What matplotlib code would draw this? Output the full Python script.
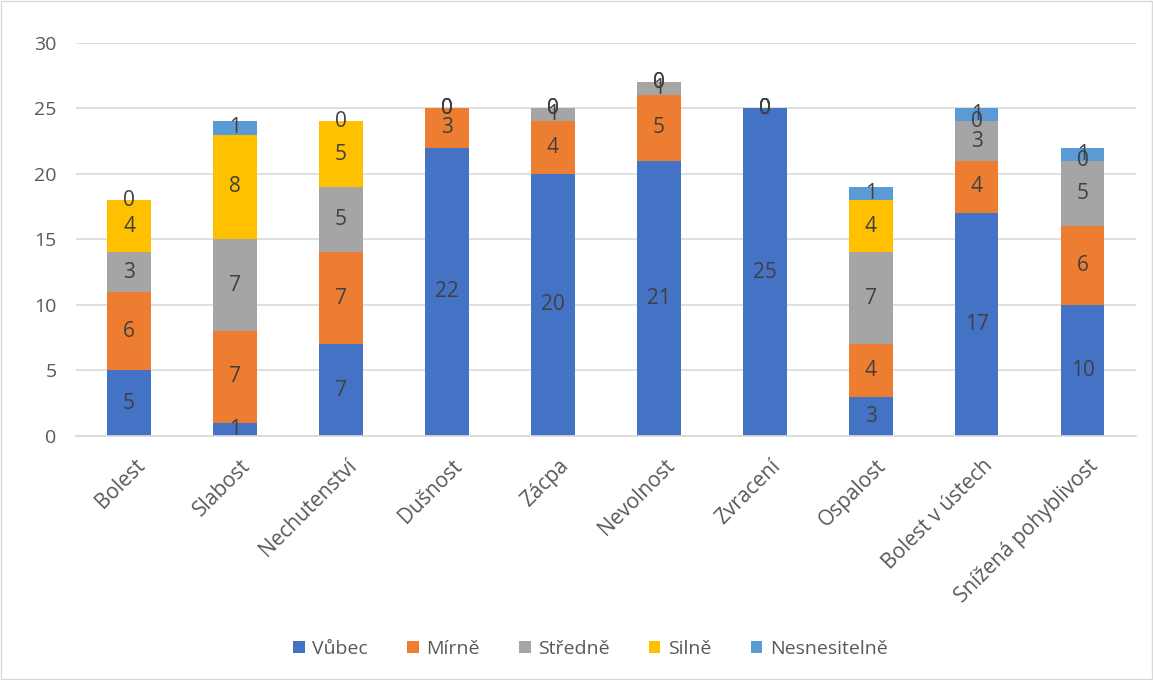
import numpy as np
import matplotlib.pyplot as plt
from matplotlib.transforms import ScaledTranslation

plt.rcParams['font.family'] = ['Open Sans', 'DejaVu Sans']

categories = ['Bolest', 'Slabost', 'Nechutenství', 'Dušnost', 'Zácpa', 'Nevolnost',
              'Zvracení', 'Ospalost', 'Bolest v ústech', 'Snížená pohyblivost']
series_names = ['Vůbec', 'Mírně', 'Středně', 'Silně', 'Nesnesitelně']
vubec = [5, 1, 7, 22, 20, 21, 25, 3, 17, 10]
mirne = [6, 7, 7, 3, 4, 5, 0, 4, 4, 6]
stredne = [3, 7, 5, 0, 1, 1, 0, 7, 3, 5]
silne = [4, 8, 5, 0, 0, 0, 0, 4, 0, 0]
nesnesitelne = [0, 1, 0, 0, 0, 0, 0, 1, 1, 1]
colors = ['#4472C4', '#ED7D31', '#A5A5A5', '#FFC000', '#5B9BD5']

fig = plt.figure(figsize=(11.53, 6.8), dpi=100)
ax = fig.add_axes([0.066, 0.359, 0.919, 0.578])

x = np.arange(len(categories))
bottom = np.zeros(len(categories))
for name, vals, c in zip(series_names, [vubec, mirne, stredne, silne, nesnesitelne], colors):
    vals = np.array(vals)
    ax.bar(x, vals, 0.41, bottom=bottom, color=c, label=name, zorder=2)
    for xi, b, v in zip(x, bottom, vals):
        ax.text(xi, b + v / 2, str(v), ha='center', va='center',
                fontsize=15, color='#404040', zorder=3)
    bottom += vals

ax.set_xlim(-0.5, len(categories) - 0.5)
ax.set_ylim(0, 30)
ax.set_yticks(range(0, 31, 5))
ax.yaxis.grid(True, color='#D9D9D9', linewidth=1.2, zorder=0)
ax.set_axisbelow(True)
for s in ['top', 'right', 'left']:
    ax.spines[s].set_visible(False)
ax.spines['bottom'].set_color('#D9D9D9')
ax.spines['bottom'].set_linewidth(1.2)
ax.tick_params(axis='y', length=0, labelsize=14, colors='#595959', pad=14)
ax.tick_params(axis='x', length=0, labelsize=15, colors='#595959', pad=14)
ax.set_xticks(x)
ax.set_xticklabels(categories, rotation=45, ha='right', rotation_mode='anchor')
for lbl in ax.get_xticklabels():
    lbl.set_transform(lbl.get_transform() + ScaledTranslation(0.05, 0, fig.dpi_scale_trans))

fig.legend(*ax.get_legend_handles_labels(), loc='center', bbox_to_anchor=(0.512, 0.046),
           ncol=5, frameon=False, fontsize=14, handlelength=0.6, handleheight=0.6,
           handletextpad=0.4, columnspacing=2.0, labelcolor='#595959')

fig.patches.append(plt.Rectangle((0.001, 0.001), 0.998, 0.998, transform=fig.transFigure,
                                 fill=False, edgecolor='#D9D9D9', linewidth=1))
fig.savefig('out.png')
